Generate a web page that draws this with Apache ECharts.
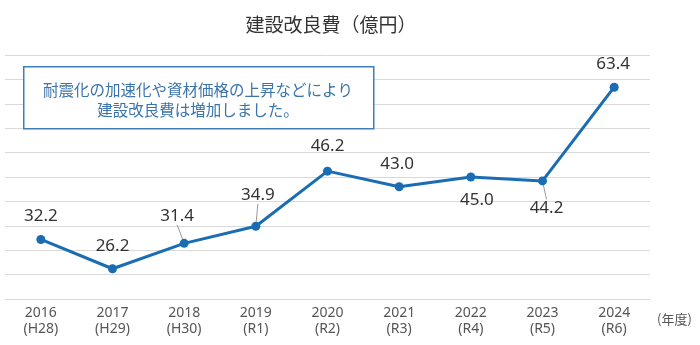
<!DOCTYPE html>
<html>
<head>
<meta charset="utf-8">
<script src="https://cdn.jsdelivr.net/npm/echarts@6/dist/echarts.min.js"></script>
<style>
  html, body { margin: 0; padding: 0; background: #fff; }
  #chart { width: 700px; height: 345px; }
</style>
</head>
<body>
<div id="chart"></div>
<script>
var years = ['2016', '2017', '2018', '2019', '2020', '2021', '2022', '2023', '2024'];
var eras = ['H28', 'H29', 'H30', 'R1', 'R2', 'R3', 'R4', 'R5', 'R6'];
var costs = [32.2, 26.2, 31.4, 34.9, 46.2, 43.0, 45.0, 44.2, 63.4];

// label placement per point: position, offset, leader line
var labelPos = ['top', 'top', 'top', 'top', 'top', 'top', 'bottom', 'bottom', 'top'];
var labelShift = [[0, 0], [0, 0], [-7, -4], [2, -8], [0, -2], [-2, 0], [6, 0], [4, 4], [-1, 0]];
var leader = [false, false, true, true, false, false, false, true, false];

var chart = echarts.init(document.getElementById('chart'));

var seriesData = costs.map(function (v, i) {
  return {
    value: v,
    label: { position: labelPos[i] },
    labelLine: { show: leader[i] }
  };
});

var option = {
  animation: false,
  title: {
    text: '建設改良費（億円）',
    left: 326,
    textAlign: 'center',
    top: 10,
    textStyle: {
      fontFamily: 'Noto Sans CJK JP',
      fontSize: 19,
      fontWeight: 'normal',
      color: '#333333'
    }
  },
  grid: { left: 5, right: 50, top: 55, bottom: 46 },
  xAxis: {
    type: 'category',
    data: years,
    boundaryGap: true,
    axisTick: { show: false },
    axisLine: { lineStyle: { color: '#d9d9d9', width: 1 } },
    axisLabel: {
      margin: 6,
      fontFamily: 'Noto Sans',
      fontSize: 14,
      lineHeight: 16,
      color: '#555555',
      formatter: function (v, i) {
        return v + '\n(' + eras[i] + ')';
      }
    }
  },
  yAxis: {
    type: 'value',
    min: 20,
    max: 70,
    interval: 5,
    axisLabel: { show: false },
    axisLine: { show: false },
    axisTick: { show: false },
    splitLine: { lineStyle: { color: '#d9d9d9', width: 1 } }
  },
  series: [{
    type: 'line',
    data: seriesData,
    symbol: 'circle',
    symbolSize: 9,
    lineStyle: { color: '#1a6db3', width: 3 },
    itemStyle: { color: '#1a6db3' },
    label: {
      show: true,
      distance: 10,
      fontFamily: 'Noto Sans',
      fontSize: 17,
      color: '#333333',
      formatter: function (p) { return p.value.toFixed(1); }
    },
    labelLine: {
      lineStyle: { color: '#999999', width: 1 }
    },
    labelLayout: function (p) {
      var s = labelShift[p.dataIndex];
      return { dx: s[0], dy: s[1] };
    },
    z: 3
  }],
  graphic: [
    {
      type: 'rect',
      left: 23,
      top: 66,
      shape: { width: 350, height: 62 },
      style: { fill: '#ffffff', stroke: '#3f7fb3', lineWidth: 1.5 },
      z: 10
    },
    {
      type: 'text',
      x: 198,
      y: 80,
      style: {
        text: '耐震化の加速化や資材価格の上昇などにより\n建設改良費は増加しました。',
        align: 'center',
        verticalAlign: 'top',
        font: '15.5px "Noto Sans CJK JP"',
        lineHeight: 20,
        fill: '#3a74aa'
      },
      z: 11
    },
    {
      type: 'text',
      left: 657,
      top: 313,
      style: {
        text: '(年度)',
        font: '13px "Noto Sans CJK JP"',
        fill: '#555555'
      }
    }
  ]
};

chart.setOption(option);
</script>
</body>
</html>
